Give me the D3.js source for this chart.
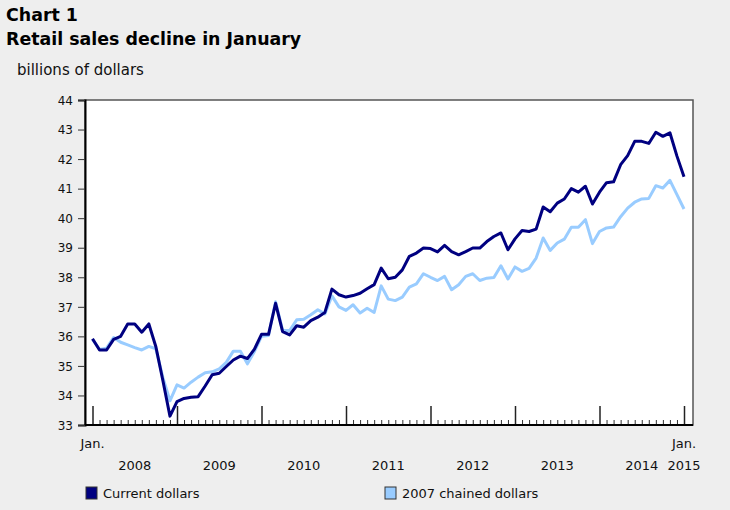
<!DOCTYPE html>
<html lang="en">
<head>
    <meta charset="UTF-8">
    <title>Retail sales decline in January</title>
    <script src="https://d3js.org/d3.v7.min.js"></script>
    <style>
        body {
            margin: 0;
            padding: 0;
            background-color: #eeeeee;
            font-family: 'DejaVu Sans', Verdana, sans-serif;
        }
        svg {
            display: block;
        }
        .axis text {
            font-family: 'DejaVu Sans', Verdana, sans-serif;
            font-size: 12px;
            fill: #111;
        }
    </style>
</head>
<body>
    <svg id="chart" width="730" height="510"></svg>

    <script>
        // Monthly values, Jan. 2008 to Jan. 2015 (billions of dollars)
        const currentDollars = [
            35.92, 35.54, 35.54, 35.90, 36.00, 36.42, 36.42, 36.14, 36.42, 35.65, 34.50, 33.30,
            33.79, 33.90, 33.94, 33.96, 34.32, 34.70, 34.75, 34.98, 35.20, 35.33, 35.25, 35.57,
            36.07, 36.07, 37.12, 36.16, 36.05, 36.36, 36.31, 36.53, 36.65, 36.81, 37.60, 37.41,
            37.33, 37.38, 37.46, 37.61, 37.75, 38.31, 37.95, 38.00, 38.25, 38.71, 38.82, 38.99,
            38.97, 38.86, 39.08, 38.87, 38.76, 38.87, 38.99, 38.99, 39.21, 39.38, 39.50, 38.93,
            39.30, 39.58, 39.55, 39.63, 40.38, 40.22, 40.51, 40.65, 41.00, 40.88, 41.08, 40.48,
            40.88, 41.20, 41.23, 41.81, 42.12, 42.60, 42.60, 42.53, 42.91, 42.77, 42.89, 42.10,
            41.40
        ];
        const chainedDollars = [
            35.90, 35.56, 35.60, 35.96, 35.80, 35.71, 35.62, 35.54, 35.66, 35.58, 34.60, 33.82,
            34.36, 34.25, 34.45, 34.62, 34.77, 34.80, 34.90, 35.12, 35.50, 35.50, 35.07, 35.49,
            36.00, 36.03, 37.17, 36.20, 36.20, 36.56, 36.58, 36.73, 36.90, 36.76, 37.37, 37.00,
            36.88, 37.07, 36.79, 36.95, 36.81, 37.71, 37.26, 37.21, 37.33, 37.67, 37.78, 38.12,
            38.00, 37.89, 38.03, 37.58, 37.75, 38.03, 38.12, 37.89, 37.97, 37.99, 38.39, 37.94,
            38.35, 38.20, 38.30, 38.65, 39.33, 38.91, 39.16, 39.29, 39.69, 39.69, 39.95, 39.14,
            39.55, 39.67, 39.70, 40.05, 40.34, 40.54, 40.65, 40.67, 41.10, 41.02, 41.28, 40.80,
            40.31
        ];
        const yearLabels = ["2008", "2009", "2010", "2011", "2012", "2013", "2014"];
        const yTicks = d3.range(33, 45);
        const seriesNames = ["Current dollars", "2007 chained dollars"];
        const seriesColors = ["#000080", "#99ccff"];

        const svg = d3.select("#chart");
        const plot = { left: 85, right: 693, top: 100, bottom: 425 };

        const x = d3.scaleLinear()
            .domain([0, currentDollars.length - 1])
            .range([92.5, 684]);

        const y = d3.scaleLinear()
            .domain([33, 44])
            .range([plot.bottom, plot.top]);

        // titles
        svg.append("text").attr("x", 6).attr("y", 21)
            .style("font-size", "17.4px").style("font-weight", "bold")
            .text("Chart 1");
        svg.append("text").attr("x", 6).attr("y", 45)
            .style("font-size", "17.4px").style("font-weight", "bold")
            .text("Retail sales decline in January");
        svg.append("text").attr("x", 17).attr("y", 75)
            .style("font-size", "15px").style("fill", "#111")
            .text("billions of dollars");

        // plot frame
        svg.append("rect")
            .attr("x", plot.left).attr("y", plot.top)
            .attr("width", plot.right - plot.left).attr("height", plot.bottom - plot.top)
            .attr("fill", "white").attr("stroke", "#555").attr("stroke-width", 1.5);

        // y axis
        const yAxis = svg.append("g")
            .attr("class", "axis")
            .attr("transform", `translate(${plot.left},0)`)
            .call(d3.axisLeft(y).tickValues(yTicks).tickSize(7).tickPadding(5));
        yAxis.select(".domain").attr("stroke", "#000").attr("stroke-width", 2);
        yAxis.selectAll(".tick line").attr("stroke", "#333");
        yAxis.selectAll(".tick text").attr("dy", "0.35em");

        // x axis: monthly minor ticks, tall ticks at January
        const months = d3.range(currentDollars.length);
        const minor = svg.append("g")
            .attr("class", "axis")
            .attr("transform", `translate(0,${plot.bottom})`)
            .call(d3.axisBottom(x).tickValues(months.filter(i => i % 12 !== 0)).tickSize(-5).tickFormat(""));
        minor.select(".domain").remove();
        minor.selectAll(".tick line").attr("stroke", "#333");

        const major = svg.append("g")
            .attr("class", "axis")
            .attr("transform", `translate(0,${plot.bottom})`)
            .call(d3.axisBottom(x).tickValues(months.filter(i => i % 12 === 0)).tickSize(-19).tickFormat(""));
        major.select(".domain").remove();
        major.selectAll(".tick line").attr("stroke", "#222").attr("stroke-width", 1.5);

        svg.append("line")
            .attr("x1", plot.left).attr("x2", plot.right)
            .attr("y1", plot.bottom).attr("y2", plot.bottom)
            .attr("stroke", "#000").attr("stroke-width", 2);

        // x labels
        const lastIdx = currentDollars.length - 1;
        [0, lastIdx].forEach(i => {
            svg.append("text").attr("x", x(i)).attr("y", 448)
                .attr("text-anchor", "middle").style("font-size", "13px").style("fill", "#111")
                .text("Jan.");
        });
        svg.selectAll(".year")
            .data(yearLabels)
            .enter()
            .append("text")
            .attr("class", "year")
            .attr("x", (d, i) => x(i * 12 + 6))
            .attr("y", 470)
            .attr("text-anchor", "middle")
            .style("font-size", "13px").style("fill", "#111")
            .text(d => d);
        svg.append("text").attr("x", x(lastIdx)).attr("y", 470)
            .attr("text-anchor", "middle").style("font-size", "13px").style("fill", "#111")
            .text("2015");

        // lines
        const line = d3.line()
            .x((d, i) => x(i))
            .y(d => y(d));

        [chainedDollars, currentDollars].forEach((series, k) => {
            svg.append("path")
                .datum(series)
                .attr("fill", "none")
                .attr("stroke", seriesColors[1 - k])
                .attr("stroke-width", 3)
                .attr("stroke-linejoin", "round")
                .attr("d", line);
        });

        // legend
        const legendX = [86, 385];
        seriesNames.forEach((name, i) => {
            svg.append("rect")
                .attr("x", legendX[i]).attr("y", 487)
                .attr("width", 11).attr("height", 12)
                .attr("fill", seriesColors[i])
                .attr("stroke", "#333").attr("stroke-width", 1);
            svg.append("text")
                .attr("x", legendX[i] + 17).attr("y", 498)
                .style("font-size", "13px").style("fill", "#111")
                .text(name);
        });
    </script>
</body>
</html>
